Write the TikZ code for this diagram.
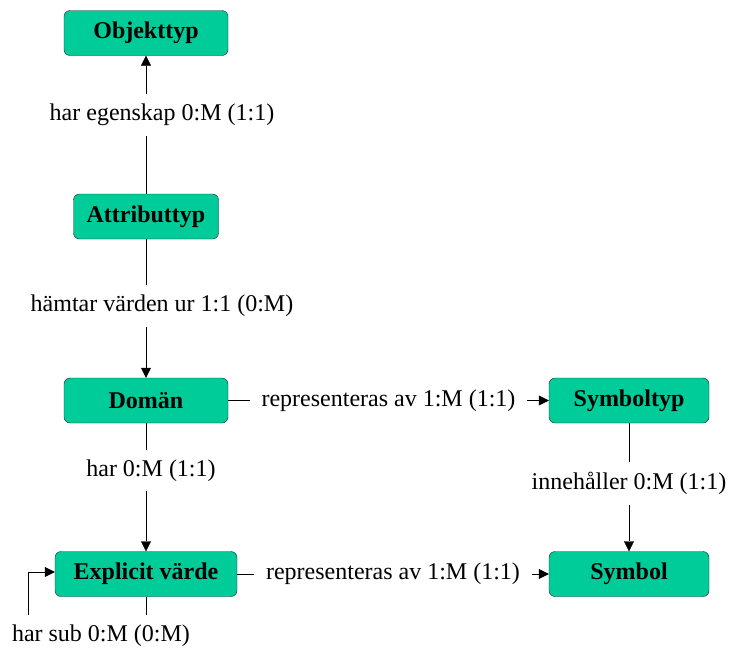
\documentclass[tikz,border=0pt]{standalone}
\usepackage{fontspec}
\setmainfont{Liberation Serif}
\usetikzlibrary{positioning,arrows.meta}
\definecolor{boxgreen}{HTML}{00CC99}
\definecolor{boxedge}{HTML}{222222}

\begin{document}
\begin{tikzpicture}[x=1pt, y=-1pt, every node/.style={font=\fontsize{24}{28}\selectfont},
                    entity/.style={draw=boxedge, fill=boxgreen, rounded corners=6pt, minimum height=45pt, font=\fontsize{24}{28}\selectfont\bfseries},
                    rel/.style={fill=white, inner xsep=12pt, inner ysep=10pt},
                    >={Triangle[length=10pt,width=10pt]}]
        \useasboundingbox (0,0) rectangle (734,649);

        \node (obj) [entity, minimum width=164pt] at (146,33) {Objekttyp};
        \node (attr) [entity, minimum width=145pt] at (146,216.5) {Attributtyp};
        \node (dom) [entity, minimum width=164pt] at (146,400.5) {Domän};
        \node (styp) [entity, minimum width=160pt] at (629,400.5) {Symboltyp};
        \node (expl) [entity, minimum width=182pt] at (146,574) {Explicit värde};
        \node (sym) [entity, minimum width=160pt] at (629,574) {Symbol};

        \draw[->] (attr) -- (obj) node[rel, pos=0.57, xshift=16pt] {har egenskap 0:M (1:1)};
        \draw[->] (attr) -- (dom) node[rel, pos=0.48, xshift=16pt] {hämtar värden ur 1:1 (0:M)};
        \draw[->] (dom) -- (expl) node[rel, pos=0.37, xshift=5pt] {har 0:M (1:1)};
        \draw[->] (dom) -- (styp) node[rel, midway] {representeras av 1:M (1:1)};
        \draw[->] (styp) -- (sym) node[rel, pos=0.47] {innehåller 0:M (1:1)};
        \draw[->] (expl) -- (sym) node[rel, midway] {representeras av 1:M (1:1)};

        % self loop on explicit value
        \node (sub) [rel] at (101,636) {har sub 0:M (0:M)};
        \coordinate (subL) at (28,0);
        \draw (expl.south) -- (expl.south |- sub.north);
        \draw[->] (sub.north -| subL) |- ([yshift=2pt]expl.west);
    \end{tikzpicture}
\end{document}
